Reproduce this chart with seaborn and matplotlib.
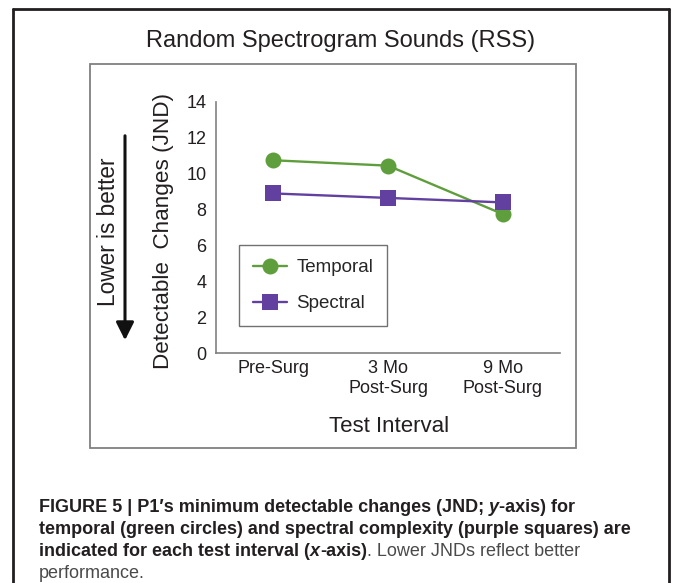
"""
Random Spectrogram Sounds (RSS) - JND per test interval
"""

import pandas as pd
import matplotlib.pyplot as plt
import seaborn as sns
from matplotlib.lines import Line2D
from matplotlib.patches import Rectangle

# Data
intervals = ['Pre-Surg', '3 Mo\nPost-Surg', '9 Mo\nPost-Surg']
temporal_jnd = [10.75, 10.45, 7.75]
spectral_jnd = [8.9, 8.65, 8.4]
y_ticks = [0, 2, 4, 6, 8, 10, 12, 14]

GREEN = '#5f9e3c'
PURPLE = '#6240a0'

df = pd.DataFrame({
    'interval': intervals * 2,
    'jnd': temporal_jnd + spectral_jnd,
    'series': ['Temporal'] * 3 + ['Spectral'] * 3,
})

sns.set_theme(style='white')
plt.rcParams['font.family'] = ['Liberation Sans', 'DejaVu Sans']

W, H = 673, 583
fig = plt.figure(figsize=(W / 100, H / 100), dpi=100)


def fx(px):
    return px / W


def fy(py):
    return 1 - py / H


# Outer frame (open at the bottom) and inner chart box
for xs, ys in [([13, 13], [583, 9]), ([13, 669], [9, 9]), ([669, 669], [9, 583])]:
    fig.add_artist(Line2D([fx(x) for x in xs], [fy(y) for y in ys],
                          color='#231f20', lw=2.0, transform=fig.transFigure))
fig.add_artist(Rectangle((fx(90), fy(448)), fx(576) - fx(90), fy(64) - fy(448),
                         fill=False, edgecolor='#808080', lw=1.3,
                         transform=fig.transFigure))

ax = fig.add_axes([fx(216), fy(353), fx(560) - fx(216), fy(102) - fy(353)])
sns.lineplot(data=df, x='interval', y='jnd', hue='series', style='series',
             palette={'Temporal': GREEN, 'Spectral': PURPLE},
             markers={'Temporal': 'o', 'Spectral': 's'}, dashes=False,
             markersize=11.5, markeredgewidth=0, linewidth=1.7, sort=False, ax=ax)

ax.set_xlim(-0.5, 2.5)
ax.set_ylim(0, 14)
ax.set_yticks(y_ticks)
ax.set_xticks(range(len(intervals)))
ax.set_xticklabels(intervals, fontsize=13, linespacing=1.25)
ax.set_xticks([-0.5, 0.5, 1.5, 2.5], minor=True)
ax.tick_params(axis='x', which='major', length=0, pad=5, colors='#231f20')
ax.tick_params(axis='x', which='minor', length=4, width=1, color='#808080', direction='out')
ax.tick_params(axis='y', length=4, width=1, color='#808080', direction='out',
               labelsize=13, labelcolor='#231f20', pad=3)
for side in ['top', 'right']:
    ax.spines[side].set_visible(False)
for side in ['left', 'bottom']:
    ax.spines[side].set_color('#808080')
    ax.spines[side].set_linewidth(1.2)
ax.set_xlabel('')
ax.set_ylabel('')
ax.patch.set_alpha(0)

handles, labels = ax.get_legend_handles_labels()
leg = ax.legend(handles, labels, loc='upper left', bbox_to_anchor=(0.067, 0.43),
                borderaxespad=0, fontsize=13.5, frameon=True, fancybox=False,
                handlelength=1.8, labelspacing=1.0, borderpad=0.75,
                handletextpad=0.5)
leg.get_frame().set_edgecolor('#4d4d4d')
leg.get_frame().set_linewidth(1.0)

# Titles and labels
fig.text(fx(341), fy(41), 'Random Spectrogram Sounds (RSS)', fontsize=17,
         ha='center', va='center', color='#231f20')
fig.text(fx(389), fy(427), 'Test Interval', fontsize=16,
         ha='center', va='center', color='#231f20')
fig.text(fx(163), fy(231), 'Detectable  Changes (JND)', fontsize=16.2,
         ha='center', va='center', rotation=90, color='#231f20')
fig.text(fx(108), fy(232), 'Lower is better', fontsize=16.3,
         ha='center', va='center', rotation=90, color='#231f20')
ax.annotate('', xy=(fx(125), fy(343)), xytext=(fx(125), fy(133)),
            xycoords='figure fraction', textcoords='figure fraction',
            arrowprops=dict(arrowstyle='-|>,head_width=0.45,head_length=0.9',
                            color='#111111', lw=2.2))

# Caption with mixed weights
cap_family = ['Liberation Sans Narrow', 'Liberation Sans']
BOLD = dict(weight='bold', color='#231f20')
BOLD_IT = dict(weight='bold', style='italic', color='#231f20')
NORMAL = dict(weight='normal', color='#4a4a4a')
caption = [
    (508, [('FIGURE 5 | P1\u2032s minimum detectable changes (JND; ', BOLD),
           ('y', BOLD_IT), ('-axis) for', BOLD)]),
    (530, [('temporal (green circles) and spectral complexity (purple squares) are', BOLD)]),
    (552, [('indicated for each test interval (', BOLD), ('x', BOLD_IT),
           ('-axis)', BOLD), ('. Lower JNDs reflect better', NORMAL)]),
    (573, [('performance.', NORMAL)]),
]
renderer = fig.canvas.get_renderer()
for y, parts in caption:
    x = fx(39)
    for txt, style in parts:
        t = fig.text(x, fy(y), txt, fontsize=13, va='center', ha='left',
                     family=cap_family, **style)
        bb = t.get_window_extent(renderer=renderer)
        x += bb.width / W

fig.savefig('out.png', dpi=100)
